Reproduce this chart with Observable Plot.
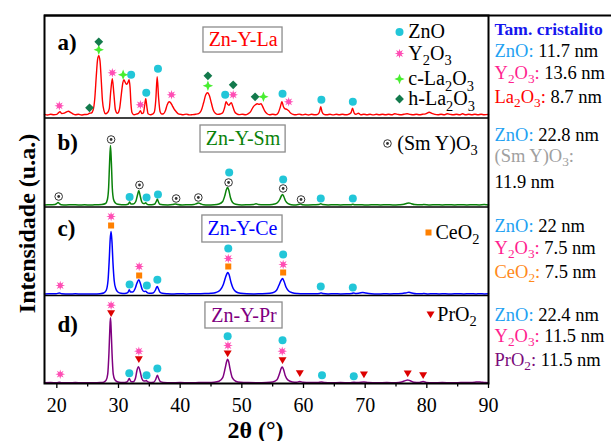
<!DOCTYPE html>
<html><head><meta charset="utf-8">
<script src="https://cdn.jsdelivr.net/npm/d3@7"></script>
<script src="https://cdn.jsdelivr.net/npm/@observablehq/plot@0.6"></script>
<style>body{margin:0;background:#fff}</style>
</head><body><div id="chart"></div>
<script>
// ---- DATA: XRD patterns, [2θ (°), intensity (a.u.)] ----
const patternLa = [[18,1.5],[18.5,0.8],[19,1.6],[19.5,1],[20,1.4],[20.3,3.2],[20.5,4],[20.8,2.2],[21.2,2.6],[21.6,4],[21.9,4.6],[22.2,3.4],[22.6,2],[23,1],[23.5,1.6],[24,0.8],[24.5,1.3],[25,1.4],[25.3,2.6],[25.6,2.8],[25.9,6],[26.15,17],[26.4,40],[26.6,56],[26.8,60],[27.0,55],[27.2,36],[27.4,15],[27.65,5],[27.9,2],[28.2,3],[28.5,7],[28.75,25],[29.0,37],[29.25,22],[29.5,6],[29.8,2.5],[30.0,3.5],[30.2,8],[30.45,21],[30.7,33],[30.88,36],[31.05,34],[31.3,31.5],[31.5,33],[31.72,36],[31.88,28],[32.02,12],[32.2,3],[32.5,1],[32.9,1.6],[33.3,2.8],[33.55,5],[33.8,2.2],[34.05,3],[34.25,11],[34.42,17],[34.6,9],[34.8,2],[35.2,1],[35.5,1.6],[35.8,3.5],[36.05,16],[36.27,39],[36.5,18],[36.75,4],[37.0,1.8],[37.3,2],[37.6,5],[37.9,11],[38.2,14],[38.45,13],[38.7,10.5],[39.0,7],[39.3,4.5],[39.7,2],[40.1,1.4],[40.5,1],[41,1.7],[41.5,0.9],[42,1.2],[42.5,1.6],[43,2.2],[43.4,5],[43.8,13],[44.15,21],[44.45,23],[44.75,20],[45.05,13],[45.35,6],[45.7,2.5],[46.1,1.4],[46.5,1.8],[46.9,3],[47.2,8],[47.45,14],[47.7,11.5],[47.9,10.5],[48.1,12],[48.3,13],[48.55,9],[48.85,4],[49.2,2],[49.6,1.2],[50.1,1.6],[50.6,1],[51.0,2],[51.4,4],[51.8,8.5],[52.2,11],[52.5,12],[52.8,11.5],[53.1,12],[53.4,9],[53.7,5],[54.1,2],[54.5,1],[55,1.6],[55.5,1],[55.9,3],[56.25,9],[56.5,14],[56.75,9],[57.0,7],[57.3,6.5],[57.6,5],[57.9,2.8],[58.3,1.5],[58.8,1],[59.3,1.7],[59.8,0.9],[60.3,1.5],[60.8,0.8],[61.3,1.6],[61.8,1],[62.3,1.5],[62.6,4],[62.8,9],[63.0,4],[63.3,1.5],[63.8,1],[64.3,1.6],[64.8,0.9],[65.3,1.5],[65.8,1],[66.3,1.6],[66.8,1],[67.3,1.5],[67.7,3],[67.95,7.5],[68.2,3],[68.5,1.5],[68.9,2.6],[69.3,1],[69.8,1.6],[70.3,1],[70.8,1.6],[71.3,0.9],[71.8,1.5],[72.3,1],[72.8,1.6],[73.3,1],[73.8,1.5],[74.3,1],[74.8,2],[75.3,1.4],[75.8,1],[76.3,1.6],[76.8,2],[77.3,1.4],[77.8,1],[78.3,1.6],[78.8,1],[79.3,1.5],[79.8,2],[80.4,3.6],[80.8,2.4],[81.3,1.4],[81.8,1],[82.3,1.6],[82.8,1],[83.3,2],[83.8,1.4],[84.3,1],[84.8,1.6],[85.3,1],[85.8,2],[86.3,1],[86.8,1.5],[87.3,1],[87.8,1.6],[88.3,1],[88.8,1.5],[89.3,1],[90,1.4]];

const patternSm = [[18,0.5],[19,0.8],[19.7,1],[20.0,2],[20.2,3],[20.4,2],[20.7,0.8],[21.5,0.6],[22.5,0.8],[23.5,0.5],[24.5,0.7],[25.5,0.5],[26.5,0.8],[27.3,1],[27.9,2],[28.2,6],[28.4,18],[28.55,42],[28.7,60],[28.85,42],[29.0,17],[29.2,6],[29.5,2.5],[29.9,1.2],[30.5,0.8],[31.2,0.8],[31.6,1.5],[31.8,3.5],[32.0,1.5],[32.4,1.5],[32.8,4],[33.1,11],[33.3,15],[33.5,10],[33.75,4],[34.0,2],[34.25,2],[34.4,2.8],[34.6,1.5],[34.9,0.8],[35.4,0.8],[35.9,1.5],[36.15,4.5],[36.3,6.5],[36.45,4],[36.7,1.2],[37.2,0.7],[38.0,0.6],[38.8,1],[39.2,1.6],[39.6,1],[40.3,0.5],[41.2,0.7],[42.2,1],[42.7,2],[42.95,2.5],[43.3,1.8],[43.8,0.8],[44.5,0.6],[45.5,0.8],[46.3,1.5],[46.9,4],[47.25,10],[47.5,16],[47.7,18],[47.9,15],[48.15,8],[48.5,3],[49.0,1.2],[50,0.6],[51,0.8],[51.9,1],[52.3,1.7],[52.7,1],[53.5,0.7],[54.5,0.8],[55.3,1.5],[55.8,3],[56.15,6],[56.4,9.5],[56.6,11],[56.8,9],[57.1,4.5],[57.5,1.8],[58.0,0.8],[58.8,0.6],[59.3,1.2],[59.5,1.5],[59.8,0.8],[60.8,0.6],[61.8,0.8],[62.5,1],[62.8,1.7],[63.1,1],[64,0.6],[65,0.8],[66,0.5],[67,0.8],[67.7,0.8],[68.0,1.3],[68.3,0.8],[69.5,0.7],[70.5,0.5],[71.5,0.8],[72.5,0.6],[73.5,0.8],[74.5,0.6],[75.5,0.8],[76.3,1.2],[76.8,2.2],[77.1,2.5],[77.5,1.8],[78,1],[79,0.7],[79.5,1],[80.5,0.6],[81.5,0.8],[82.5,0.5],[83.5,0.8],[84.5,0.6],[85.5,0.8],[86.5,0.5],[87.5,0.8],[88.5,0.6],[89.3,0.9],[90,0.6]];

const patternCe = [[18,0.5],[19,0.7],[19.9,0.8],[20.4,1.5],[20.8,0.8],[22,0.5],[23,0.7],[24,0.5],[25,0.6],[26,0.5],[27,0.8],[27.6,1.5],[28.0,4],[28.3,14],[28.5,35],[28.65,55],[28.8,63],[28.95,52],[29.1,32],[29.3,14],[29.55,6],[29.9,2.5],[30.4,1.2],[31.0,1],[31.5,1.8],[31.75,4.7],[31.95,2.5],[32.3,2.5],[32.7,6],[33.0,11.5],[33.3,14.7],[33.55,11],[33.85,5],[34.15,3],[34.4,3.3],[34.6,2.2],[35.0,1.2],[35.6,1.5],[35.95,4],[36.2,7.5],[36.3,8],[36.45,6],[36.7,2.5],[37.1,1.2],[38,0.8],[39,0.6],[40,0.8],[41,0.6],[42,0.7],[43,0.8],[44,0.9],[45,1.2],[45.8,2],[46.5,4.5],[47.0,10],[47.35,17],[47.6,21],[47.75,22],[47.95,19.5],[48.25,12],[48.6,6],[49.1,2.5],[49.8,1.2],[50.8,0.7],[52,0.6],[53,0.8],[54,1],[55,1.8],[55.6,4],[56.0,9],[56.35,14],[56.6,16],[56.85,13],[57.2,7],[57.6,3.5],[58.2,1.8],[59,1],[60,0.7],[61,0.8],[62,0.7],[62.6,1],[62.85,1.6],[63.1,1],[64,0.6],[65,0.8],[66,0.6],[67,0.7],[67.8,1],[68.1,1.6],[68.4,1],[69.1,1.5],[69.6,2],[70.1,1.4],[71,0.7],[72,0.5],[73,0.7],[74,0.6],[75,0.8],[76,1],[76.6,1.6],[77.1,2.2],[77.6,1.5],[78.3,0.8],[79,0.7],[79.5,1],[80.2,0.6],[81,0.8],[82,0.6],[83,0.7],[84,0.5],[85,0.8],[86,0.6],[87,0.8],[88,0.5],[88.6,0.8],[89.3,0.6],[90,0.7]];

const patternPr = [[18,0.4],[19,0.6],[20,0.5],[20.4,0.9],[20.8,0.5],[22,0.4],[23,0.6],[24,0.4],[25,0.5],[26,0.4],[27,0.6],[27.6,1],[28.0,3],[28.25,9],[28.45,30],[28.6,55],[28.7,65.5],[28.8,55],[28.95,30],[29.15,9],[29.4,3.5],[29.8,1.5],[30.4,0.8],[31.0,0.8],[31.45,1.6],[31.75,4.7],[32.0,1.8],[32.4,1.5],[32.75,5],[33.0,13],[33.25,16.5],[33.5,12],[33.8,4.5],[34.1,2.2],[34.35,2.2],[34.5,2.7],[34.7,1.5],[35.1,0.8],[35.7,1],[36.05,4],[36.3,8],[36.5,5],[36.8,1.5],[37.3,0.7],[38.5,0.5],[40,0.6],[41.5,0.5],[43,0.6],[44.5,0.7],[45.5,1],[46.3,2],[46.9,5.5],[47.3,15],[47.55,22],[47.7,24],[47.85,22],[48.1,14],[48.45,5.5],[49.0,2],[49.8,0.9],[51,0.6],[52.5,0.5],[54,0.7],[55,1.3],[55.7,3.5],[56.1,9.5],[56.4,15],[56.55,16.3],[56.75,14],[57.05,7.5],[57.5,3],[58.2,1.2],[58.9,0.9],[59.4,1.7],[59.9,0.9],[61,0.6],[62.3,0.8],[62.9,1.3],[63.4,0.7],[64.5,0.5],[66,0.6],[67.5,0.5],[68.2,0.9],[68.8,0.6],[69.8,1.3],[70.5,0.7],[72,0.5],[73.5,0.6],[75,0.5],[75.9,1.2],[76.5,2.6],[76.9,3.3],[77.3,2.5],[77.9,1],[78.8,0.8],[79.4,1.7],[79.9,0.8],[81,0.5],[82.5,0.6],[84,0.5],[85.5,0.6],[87,0.7],[87.8,1],[88.3,1.3],[88.8,1],[89.5,0.6],[90,0.5]];

// phase identification markers: [panel, 2θ, marker height (a.u.)]
const markZnO = [["a",32.05,41],["a",34.5,23],["a",36.4,47],["a",47.3,21],["a",56.6,22],["a",62.9,16],["a",68.0,14],
  ["b",31.8,8.5],["b",34.55,8],["b",36.4,11],["b",47.95,33],["b",56.7,26],["b",62.8,7],["b",68.0,7],
  ["c",31.8,10],["c",34.6,9],["c",36.3,14.7],["c",47.8,46],["c",56.7,40],["c",62.8,8],["c",68.0,7],
  ["d",31.75,10],["d",34.55,8],["d",36.3,14.7],["d",47.7,47],["d",56.6,43],["d",63.0,8],["d",68.15,7]];
const markY2O3 = [["a",20.4,10],["a",29.0,43],["a",33.55,11],["a",38.6,21],["a",48.6,21],["a",57.6,14],
  ["c",20.55,9],["c",28.8,78],["c",33.35,28],["c",47.8,36],["c",56.7,30],
  ["d",20.55,9],["d",28.8,78],["d",33.3,32],["d",47.75,37.7],["d",56.55,32]];
const markCLa = [["a",26.8,66],["a",30.75,41],["a",44.5,30],["a",53.5,19]];
const markHLa = [["a",25.3,8],["a",26.8,74],["a",44.5,40],["a",48.6,31],["a",52.15,19]];
const markSmY = [["b",20.3,9],["b",28.8,66],["b",33.4,20.5],["b",39.35,7],["b",42.95,8],["b",47.85,23],["b",56.7,17],["b",59.6,6]];
const markCeO2 = [["c",28.8,69],["c",33.35,19],["c",47.8,28],["c",56.7,22]];
const markPrO2 = [["d",28.8,70],["d",33.3,24],["d",47.7,29.7],["d",56.6,23],["d",59.4,10],["d",69.8,8.7],["d",76.9,9.7],["d",79.4,8]];

// labels
const panelLetters = ["a)","b)","c)","d)"];
const sampleNames = ["Zn-Y-La","Zn-Y-Sm","Zn-Y-Ce","Zn-Y-Pr"];
const xTicks = [20,30,40,50,60,70,80,90];
const xMinor = [25,35,45,55,65,75,85];
const crystalTitle = "Tam. cristalito";
const crystal = [["ZnO",11.7],["Y_2O_3",13.6],["La_2O_3",8.7],
  ["ZnO",22.8],["(Sm Y)O_3",11.9],
  ["ZnO",22],["Y_2O_3",7.5],["CeO_2",7.5],
  ["ZnO",22.4],["Y_2O_3",11.5],["PrO_2",11.5]];

// ---- LAYOUT / STYLE ----
const FONT = "'Liberation Serif', 'Times New Roman', serif";
const off = {a: 267.7, b: 178, c: 89, d: 0.3};
const lineColor = {a: "#ff0000", b: "#0a820a", c: "#0000ff", d: "#800080"};
const boxColor = {"ZnO": "#1fa2f2", "Y_2O_3": "#ff1f8f", "La_2O_3": "#ff0000", "(Sm Y)O_3": "#a0a0a0", "CeO_2": "#ff8a1a", "PrO_2": "#7a0a7a"};
const C = {zno: "#22c6d8", y2o3: "#ff4db4", cla: "#48ee30", hla: "#137a4c", smy: "#333333", ceo2: "#ff8000", pro2: "#dd0000"};

const sym = {
  sparkle: {draw(ctx, s){const r=Math.sqrt(s/Math.PI),k=r*0.28;ctx.moveTo(0,-r);ctx.lineTo(k,-k);ctx.lineTo(r,0);ctx.lineTo(k,k);ctx.lineTo(0,r);ctx.lineTo(-k,k);ctx.lineTo(-r,0);ctx.lineTo(-k,-k);ctx.closePath();}},
  burst: {draw(ctx, s){const r=Math.sqrt(s/Math.PI),ri=r*0.45;for(let i=0;i<16;i++){const a=i*Math.PI/8-Math.PI/2,rr=i%2?ri:r,x=rr*Math.cos(a),y=rr*Math.sin(a);i?ctx.lineTo(x,y):ctx.moveTo(x,y);}ctx.closePath();}},
  diamond: {draw(ctx, s){const r=Math.sqrt(s/Math.PI);ctx.moveTo(0,-r);ctx.lineTo(r,0);ctx.lineTo(0,r);ctx.lineTo(-r,0);ctx.closePath();}},
  tri: {draw(ctx, s){const r=Math.sqrt(s/Math.PI);ctx.moveTo(-r,-0.75*r);ctx.lineTo(r,-0.75*r);ctx.lineTo(0,0.95*r);ctx.closePath();}}
};

const pts = (arr) => arr.map(([p, x, h]) => ({x, y: off[p] + h}));
const curve = (p, arr) => arr.map(([x, v]) => ({x, y: off[p] + v}));

const markerMarks = (data, kind) => {
  switch (kind) {
    case "zno": return [Plot.dot(data, {x: "x", y: "y", r: 4, fill: C.zno, stroke: "none"})];
    case "y2o3": return [Plot.dot(data, {x: "x", y: "y", r: 4.8, symbol: sym.burst, fill: C.y2o3, stroke: "none"})];
    case "cla": return [Plot.dot(data, {x: "x", y: "y", r: 5.2, symbol: sym.sparkle, fill: C.cla, stroke: "none"})];
    case "hla": return [Plot.dot(data, {x: "x", y: "y", r: 4.4, symbol: sym.diamond, fill: C.hla, stroke: "none"})];
    case "smy": return [Plot.dot(data, {x: "x", y: "y", r: 3.8, fill: "white", stroke: C.smy, strokeWidth: 1}),
                        Plot.dot(data, {x: "x", y: "y", r: 1.4, fill: C.smy, stroke: "none"})];
    case "ceo2": return [Plot.dot(data, {x: "x", y: "y", r: 3.4, symbol: "square", fill: C.ceo2, stroke: "none"})];
    case "pro2": return [Plot.dot(data, {x: "x", y: "y", r: 4, symbol: sym.tri, fill: C.pro2, stroke: "none"})];
  }
};

// legend entries (position in chart coordinates)
const legend = [
  {kind: "zno", label: "ZnO", x: 75.57, tx: 77.0, y: 351.5},
  {kind: "y2o3", label: "Y_2O_3", x: 75.57, tx: 77.0, y: 330},
  {kind: "cla", label: "c-La_2O_3", x: 75.57, tx: 77.0, y: 304.5},
  {kind: "hla", label: "h-La_2O_3", x: 75.57, tx: 77.0, y: 284.5},
  {kind: "smy", label: "(Sm Y)O_3", x: 73.62, tx: 75.2, y: 240},
  {kind: "ceo2", label: "CeO_2", x: 80.27, tx: 81.4, y: 151},
  {kind: "pro2", label: "PrO_2", x: 80.6, tx: 81.7, y: 69}
];
const boxes = [
  {x1: 43.78, x2: 56.6, y1: 331, y2: 356, tx: 50.2, ty: 343.5, c: lineColor.a},
  {x1: 43.3, x2: 57.1, y1: 231, y2: 258, tx: 50.2, ty: 244.5, c: lineColor.b},
  {x1: 43.6, x2: 56.6, y1: 141, y2: 168, tx: 50.1, ty: 154.5, c: lineColor.c},
  {x1: 44.1, x2: 56.6, y1: 55, y2: 81, tx: 50.35, ty: 68, c: lineColor.d}
].map((b, i) => ({...b, name: sampleNames[i]}));
const letterPos = [334, 234, 148, 52].map((y, i) => ({y, t: panelLetters[i]}));

// right box lines
const rowY = [327, 305, 281, 243, 222, 196, 152, 130, 106, 63, 42, 18];
const rows = [];
for (const [ph, v] of crystal) {
  if (ph.startsWith("(Sm")) { rows.push(`{${boxColor[ph]}|${ph}:}`); rows.push(`${v} nm`); }
  else rows.push(`{${boxColor[ph]}|${ph}:} ${v} nm`);
}
const rightLines = rows.map((t, i) => ({t, y: rowY[i]}));

const marks = [
  Plot.rect(boxes, {x1: "x1", x2: "x2", y1: "y1", y2: "y2", fill: "white", stroke: "#8c8c8c", strokeWidth: 1.3}),
  Plot.text(boxes, {x: "tx", y: "ty", text: "name", fill: "c", fontSize: 20, fontFamily: FONT, lineAnchor: "middle"}),
  Plot.text(letterPos, {x: 20.1, y: "y", text: "t", textAnchor: "start", lineAnchor: "bottom", fontSize: 23, fontWeight: "bold", fontFamily: FONT}),
  Plot.line(curve("a", patternLa), {x: "x", y: "y", stroke: lineColor.a, strokeWidth: 1.4, curve: "monotone-x"}),
  Plot.line(curve("b", patternSm), {x: "x", y: "y", stroke: lineColor.b, strokeWidth: 1.5, curve: "monotone-x"}),
  Plot.line(curve("c", patternCe), {x: "x", y: "y", stroke: lineColor.c, strokeWidth: 1.5, curve: "monotone-x"}),
  Plot.line(curve("d", patternPr), {x: "x", y: "y", stroke: lineColor.d, strokeWidth: 1.5, curve: "monotone-x"}),
  ...markerMarks(pts(markZnO), "zno"),
  ...markerMarks(pts(markY2O3), "y2o3"),
  ...markerMarks(pts(markCLa), "cla"),
  ...markerMarks(pts(markHLa), "hla"),
  ...markerMarks(pts(markSmY), "smy"),
  ...markerMarks(pts(markCeO2), "ceo2"),
  ...markerMarks(pts(markPrO2), "pro2"),
  ...legend.flatMap(l => markerMarks([{x: l.x, y: l.y}], l.kind)),
  Plot.text(legend, {x: "tx", y: "y", text: "label", textAnchor: "start", lineAnchor: "middle", fontSize: 20, fontFamily: FONT, fill: "black"}),
  Plot.ruleY([265.5, 176.5, 88], {stroke: "black", strokeWidth: 1.6}),
  Plot.ruleX(xMinor, {y1: 0, y2: -3.5, stroke: "black", strokeWidth: 1.3}),
  Plot.axisX(xTicks, {tickSize: 5, tickPadding: 9, fontSize: 20, fontFamily: FONT, strokeWidth: 1.3, label: null}),
  Plot.frame({stroke: "black", strokeWidth: 2}),
  Plot.ruleY([368], {x1: 18, x2: 110, stroke: "black", strokeWidth: 2}),
  Plot.text([{t: crystalTitle, y: 349}], {y: "y", text: "t", frameAnchor: "right", dx: 6, textAnchor: "start", lineAnchor: "bottom", fontSize: 17.5, fontWeight: "bold", fill: "#1515ee", fontFamily: FONT}),
  Plot.text(rightLines, {y: "y", text: "t", frameAnchor: "right", dx: 6, textAnchor: "start", lineAnchor: "bottom", fontSize: 18.5, fill: "black", fontFamily: FONT}),
  Plot.text([{t: "2θ (°)", y: -54}], {y: "y", text: "t", frameAnchor: "bottom", dx: -11, textAnchor: "middle", lineAnchor: "bottom", fontSize: 24, fontWeight: "bold", fontFamily: FONT}),
  Plot.text([{t: "Intensidade (u.a.)", y: 160}], {y: "y", text: "t", frameAnchor: "left", dx: -17, rotate: -90, textAnchor: "middle", lineAnchor: "middle", fontSize: 24, fontWeight: "bold", fontFamily: FONT})
];

const chart = Plot.plot({
  width: 611, height: 441,
  marginLeft: 44, marginRight: 123, marginTop: 15, marginBottom: 58,
  x: {domain: [18, 90]},
  y: {domain: [0, 368], axis: null},
  style: {fontFamily: FONT, color: "black", background: "white", overflow: "visible"},
  marks
});
document.getElementById("chart").appendChild(chart);

// rich text: {color|...} coloured runs and _x subscripts
function richify(svg) {
  d3.select(svg).selectAll("text").each(function() {
    const s = this.textContent;
    if (!/[_{]/.test(s)) return;
    const fs = parseFloat(getComputedStyle(this).fontSize) || 16;
    const segs = [];
    let color = null;
    for (let i = 0; i < s.length; i++) {
      const c = s[i];
      if (c === "{") { const j = s.indexOf("|", i); color = s.slice(i + 1, j); i = j; continue; }
      if (c === "}") { color = null; continue; }
      let sub = false, ch = c;
      if (c === "_") { sub = true; ch = s[++i]; }
      const last = segs[segs.length - 1];
      if (last && last.sub === sub && last.color === color) last.t += ch;
      else segs.push({t: ch, sub, color});
    }
    this.textContent = "";
    let shifted = false;
    const shift = 0.26 * fs;
    for (const g of segs) {
      const ts = d3.select(this).append("tspan").text(g.t);
      if (g.color) ts.attr("fill", g.color);
      if (g.sub) { ts.attr("font-size", 0.72 * fs); if (!shifted) { ts.attr("dy", shift); shifted = true; } }
      else if (shifted) { ts.attr("dy", -shift); shifted = false; }
    }
  });
}
richify(chart);
</script></body></html>
